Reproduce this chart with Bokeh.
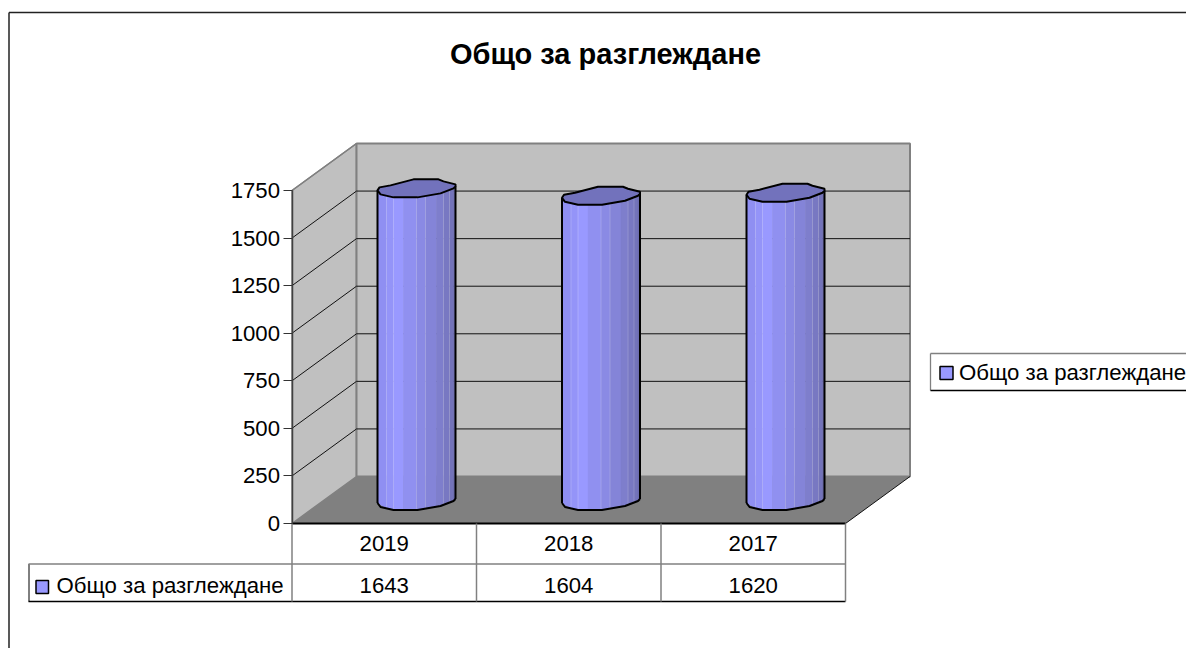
from bokeh.embed import file_html
from bokeh.resources import INLINE
from bokeh.plotting import figure
from bokeh.models import Range1d, LinearAxis, FixedTicker
from bokeh.core.properties import value
import numpy as np

TITLE = "Общо за разглеждане"
SERIES = "Общо за разглеждане"
CATEGORIES = ["2019", "2018", "2017"]
VALUES = [1643, 1604, 1620]
Y_TICKS = [0, 250, 500, 750, 1000, 1250, 1500, 1750]

W, H = 1186, 648
FONT = value("Liberation Sans")
FS = "22.2px"
UX = 184.5           # px per category
UY = 333 / 1750      # px per value unit
X0, Y0 = 291.5, 523  # page px of the chart origin
DX, DY = 64.5, 47    # depth of the 3D box, px
NCAT = len(CATEGORIES)
YMAX = Y_TICKS[-1]


def px(x):
    return (x - X0) / UX


def py(y):
    return (Y0 - y) / UY


p = figure(width=W, height=H, output_backend="svg", toolbar_location=None,
           x_axis_type=None, y_axis_type=None, min_border=0,
           x_range=Range1d(px(0), px(W)), y_range=Range1d(py(H), py(0)),
           outline_line_color=None, background_fill_color="white",
           border_fill_color="white")
p.grid.visible = False

ddx, ddy = DX / UX, DY / UY
GRAY, DARK = "#808080", "#000000"

# outer frame
p.segment([px(8.5), px(8.5)], [py(12), py(12)], [px(8.5), px(W)], [py(H), py(12)],
          line_color="#222222", line_width=1.5)

# walls and floor
p.patch([0, ddx, ddx, 0], [YMAX, YMAX + ddy, ddy, 0], fill_color="#C0C0C0", line_color=GRAY, line_width=1.5)
p.patch([ddx, NCAT + ddx, NCAT + ddx, ddx], [YMAX + ddy, YMAX + ddy, ddy, ddy],
        fill_color="#C0C0C0", line_color=GRAY, line_width=2)
p.patch([0, NCAT, NCAT + ddx, ddx], [0, 0, ddy, ddy], fill_color="#808080", line_color=None)

# gridlines
gt = [t for t in Y_TICKS if 0 < t < YMAX]
p.segment([0] * len(gt), gt, [ddx] * len(gt), [t + ddy for t in gt], line_color="#111111", line_width=1)
p.segment([ddx] * len(gt), [t + ddy for t in gt], [NCAT + ddx] * len(gt), [t + ddy for t in gt],
          line_color="#111111", line_width=1)
p.segment([0], [YMAX], [ddx], [YMAX + ddy], line_color=GRAY, line_width=1.5)
p.segment([NCAT], [0], [NCAT + ddx], [ddy], line_color="#111111", line_width=1)

# cylinders
STRIP_EDGES = np.array([-39, -30, -23, -13, 0, 9, 20, 27, 33, 37, 39]) * 1.0
STRIP_COLORS = ["#8F8FF2", "#9494F8", "#9999FF", "#9090F0", "#8A8AE4", "#8484D8",
                "#7E7ECC", "#7878C2", "#7373BA", "#6C6CAE"]
# ellipse outline offsets, px from centre (y up)
RX_TOP = np.array([-39, -37, -26, -3, 22, 27, 39])
RY_TOP = np.array([-2, 1, 3, 9, 9, 7, 4])
RX_LOW = np.array([-39, -36, -23, 1, 24, 37, 39])
RY_LOW = np.array([-2, -6, -9, -9, -5, 0, 2])
cy_off = DY / 2 - 1

for i, v in enumerate(VALUES):
    cx = i + 0.5 + ddx / 2
    top = v + cy_off / UY
    bot = cy_off / UY
    xs, ys, cols = [], [], []
    for k, c in enumerate(STRIP_COLORS):
        a, b = STRIP_EDGES[k], STRIP_EDGES[k + 1]
        la, lb = np.interp([a, b], RX_LOW, RY_LOW)
        xs.append([cx + a / UX, cx + b / UX, cx + b / UX, cx + a / UX])
        ys.append([top + la / UY, top + lb / UY, bot + lb / UY, bot + la / UY])
        cols.append(c)
    p.patches(xs, ys, fill_color=cols, line_color=cols, line_width=0.5)
    # thin light seams between the facets
    seams = STRIP_EDGES[[1, 2, 4, 5, 7, 8]]
    sl = np.interp(seams, RX_LOW, RY_LOW)
    p.segment(cx + seams / UX, top + sl / UY, cx + seams / UX, bot + sl / UY,
              line_color="white", line_alpha=0.2, line_width=1)
    # outline: sides and bottom edge
    ox = cx + RX_LOW / UX
    p.line(ox, bot + RY_LOW / UY, line_color="black", line_width=2)
    p.segment([cx - 39 / UX, cx + 39 / UX], [top + RY_LOW[0] / UY, top + RY_LOW[-1] / UY],
              [cx - 39 / UX, cx + 39 / UX], [bot + RY_LOW[0] / UY, bot + RY_LOW[-1] / UY],
              line_color="black", line_width=2)
    # cap
    capx = np.concatenate([cx + RX_TOP / UX, cx + RX_LOW[::-1] / UX])
    capy = np.concatenate([top + RY_TOP / UY, top + RY_LOW[::-1] / UY])
    p.patch(capx, capy, fill_color="#7272BC", line_color="black", line_width=2)

# data table
yb1, yb2 = py(563.5), py(601)
p.segment([0, 0, px(28)], [py(523), yb1, yb2], [NCAT, NCAT, NCAT], [py(523), yb1, yb2],
          line_color=[DARK, GRAY, DARK], line_width=[2, 1.5, 1.5])
p.segment(list(range(NCAT + 1)), [0] * (NCAT + 1), list(range(NCAT + 1)), [yb2] * (NCAT + 1),
          line_color=GRAY, line_width=1.5)
p.segment([px(28.5)], [yb1], [px(28.5)], [yb2], line_color=DARK, line_width=1)
p.segment([px(28)], [yb1], [0], [yb1], line_color=GRAY, line_width=1.5)

mid = [i + 0.5 for i in range(NCAT)]
p.text(mid, [py(543)] * NCAT, text=CATEGORIES, text_font=FONT, text_font_size=FS, text_align="center",
       text_baseline="alphabetic", text_color="black")
p.text(mid, [py(585)] * NCAT, text=[str(v) for v in VALUES], text_font=FONT, text_font_size=FS,
       text_align="center", text_baseline="alphabetic", text_color="black")
p.text([px(56)], [py(585)], text=[SERIES], text_font=FONT, text_font_size=FS, text_align="left",
       text_baseline="alphabetic", text_color="black")
p.quad(left=[px(35.5), px(939.5)], right=[px(48), px(952.5)], top=[py(580), py(366)], bottom=[py(593), py(379)],
       fill_color="#9999FF", line_color="black", line_width=1.5)

# legend box
p.segment([px(930), px(930), px(930)], [py(353), py(353), py(390)], [px(W), px(930), px(W)],
          [py(353), py(390), py(390)], line_color=[GRAY, GRAY, DARK], line_width=1.3)
p.text([px(958.5)], [py(371.5)], text=[SERIES], text_font=FONT, text_font_size=FS, text_align="left",
       text_baseline="alphabetic", text_color="black")

# title
p.text([px(605)], [py(53)], text=[TITLE], text_font=FONT, text_font_size="29px", text_font_style=value("bold"),
       text_align="center", text_baseline="alphabetic", text_color="black")

# value axis
ax = LinearAxis(ticker=FixedTicker(ticks=Y_TICKS), fixed_location=0, bounds=(0, YMAX))
ax.major_tick_in = 0
ax.major_tick_out = 9
ax.minor_tick_line_color = None
ax.major_tick_line_color = "#333333"
ax.major_tick_line_width = 1.2
ax.axis_line_color = "#404040"
ax.axis_line_width = 1.5
ax.major_label_text_font = "Liberation Sans"
ax.major_label_text_font_size = FS
ax.major_label_text_color = "black"
ax.major_label_standoff = 3
p.add_layout(ax, "left")

open("out.html", "w").write(file_html(p, INLINE))
